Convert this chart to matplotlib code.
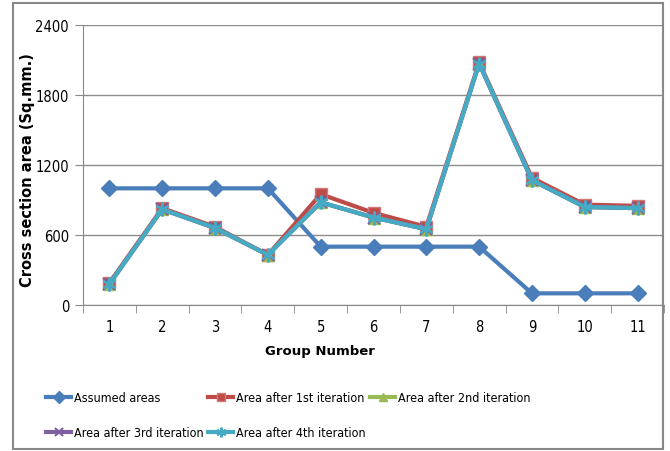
import numpy as np
import matplotlib.pyplot as plt
from matplotlib.patches import Rectangle

plt.rcParams['font.family'] = ['DejaVu Sans']
plt.rcParams['font.stretch'] = 'condensed'

groups = [1, 2, 3, 4, 5, 6, 7, 8, 9, 10, 11]
assumed = [1000, 1000, 1000, 1000, 500, 500, 500, 500, 100, 100, 100]
iter1 = [190, 830, 670, 430, 950, 790, 670, 2080, 1090, 860, 850]
iter2 = [180, 820, 660, 430, 880, 750, 650, 2070, 1070, 840, 830]
iter3 = [180, 820, 660, 430, 880, 750, 650, 2070, 1070, 840, 830]
iter4 = [180, 820, 660, 430, 880, 750, 650, 2070, 1070, 840, 830]
yticks = [0, 600, 1200, 1800, 2400]

fig = plt.figure(figsize=(6.7, 4.52), dpi=100)
ax = fig.add_axes([83/670, 1-306/452, 581/670, 280/452])

lw = 3
h0, = ax.plot(groups, assumed, color='#4A7EBB', lw=lw, marker='D', ms=8.5, label='Assumed areas')
h1, = ax.plot(groups, iter1, color='#BE4B48', lw=lw, marker='s', ms=9,
              mec='#D07A78', label='Area after 1st iteration')
h2, = ax.plot(groups, iter2, color='#98B954', lw=lw, marker='^', ms=8, label='Area after 2nd iteration')
h3, = ax.plot(groups, iter3, color='#7D60A0', lw=lw, marker='x', ms=8, mew=1.5,
              label='Area after 3rd iteration')
h4, = ax.plot(groups, iter4, color='#46AAC5', lw=lw, marker=(6, 2, 0), ms=10, mew=1.5,
              label='Area after 4th iteration')

ax.set_xlim(0.5, 11.5)
ax.set_ylim(0, 2400)
ax.set_yticks(yticks)
ax.set_xticks(groups)
ax.set_xticks(np.arange(0.5, 12, 1), minor=True)
ax.tick_params(axis='x', which='major', length=0, pad=10, labelsize=10.5)
ax.tick_params(axis='x', which='minor', length=6, color='#888888', direction='out')
ax.tick_params(axis='y', length=6, color='#888888', labelsize=10.5, pad=4)
ax.yaxis.grid(True, color='#8C8C8C', lw=1)
ax.set_axisbelow(True)
for s in ['top', 'right']:
    ax.spines[s].set_visible(False)
for s in ['left', 'bottom']:
    ax.spines[s].set_color('#888888')

fig.text(28/670, 1-170/452, 'Cross section area (Sq.mm.)', rotation=90, ha='center', va='center',
         fontsize=10.5, fontweight='bold', fontstretch='normal')
fig.text(320/670, 1-352/452, 'Group Number', ha='center', va='center',
         fontsize=9.5, fontweight='bold', fontstretch='normal')

# legend columns placed separately so they start at even spacing
cols = [([h0, h3], 46), ([h1, h4], 208), ([h2], 370)]
for hs, x in cols:
    fig.legend(handles=hs, loc='upper left', bbox_to_anchor=(x/670, 1-392/452), frameon=False,
               fontsize=9, handlelength=2.0, handletextpad=0.2, labelspacing=1.8,
               markerscale=0.7, borderaxespad=0, borderpad=0)

fig.patches.append(Rectangle((13/670, 2/452), 650/670, 446/452, transform=fig.transFigure,
                             fill=False, ec='#888888', lw=1.5))

plt.savefig('out.png', dpi=100)
